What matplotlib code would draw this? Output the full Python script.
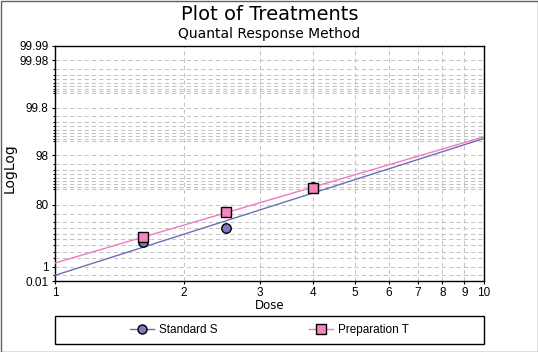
import numpy as np
import matplotlib
matplotlib.use("Agg")
import matplotlib.pyplot as plt
from matplotlib.lines import Line2D
from matplotlib.patches import Rectangle

# data (response in percent)
dose = [1.6, 2.5, 4.0]
std_resp = [25.5, 50.0, 91.0]
prep_resp = [34.0, 72.5, 90.5]

# fitted lines: percent at dose 1 and dose 10
fit_dose = [1.0, 10.0]
std_fit = [0.092, 99.107]
prep_fit = [2.15, 99.175]

y_major = [0.01, 1, 80, 98, 99.8, 99.98, 99.99]
y_major_lbl = ["0.01", "1", "80", "98", "99.8", "99.98", "99.99"]
y_minor = [0.1, 5, 10, 20, 30, 40, 50, 60, 70,
           90, 91, 92, 93, 94, 95, 96, 97,
           99.0, 99.1, 99.2, 99.3, 99.4, 99.5, 99.6, 99.7,
           99.90, 99.91, 99.92, 99.93, 99.94, 99.95, 99.96, 99.97]
x_ticks = [1, 2, 3, 4, 5, 6, 7, 8, 9, 10]

BLUE_L = "#6e6eb4"; BLUE_F = "#7b7bc0"
PINK_L = "#f07ac0"; PINK_F = "#f584c0"
GRID = "#c4c4c4"

def fwd(p):
    p = np.asarray(p, dtype=float) / 100.0
    with np.errstate(divide="ignore", invalid="ignore"):
        return -np.log(-np.log(p))

def inv(g):
    g = np.asarray(g, dtype=float)
    return 100.0 * np.exp(-np.exp(-g))

plt.rcParams["font.family"] = ["Liberation Sans", "DejaVu Sans"]

fig = plt.figure(figsize=(5.38, 3.52), dpi=100)
ax = fig.add_axes([55/538, 1-281/352, 429/538, 235/352])

ax.set_xscale("log")
ax.set_yscale("function", functions=(fwd, inv))
ax.set_xlim(1, 10)
ax.set_ylim(0.01, 99.99)

ax.plot(fit_dose, std_fit, color=BLUE_L, lw=1.0, zorder=3)
ax.plot(fit_dose, prep_fit, color=PINK_L, lw=1.0, zorder=3)
ax.plot(dose, std_resp, ls="none", marker="o", ms=6.8, mfc=BLUE_F, mec="black", mew=1.0, zorder=4)
ax.plot(dose, prep_resp, ls="none", marker="s", ms=6.8, mfc=PINK_F, mec="black", mew=1.0, zorder=5)

ax.set_yticks(y_major)
ax.set_yticklabels(y_major_lbl)
ax.set_yticks(y_minor, minor=True)
ax.set_xticks(x_ticks)
ax.set_xticklabels([str(v) for v in x_ticks])
ax.xaxis.set_minor_locator(matplotlib.ticker.NullLocator())

ax.grid(True, which="both", axis="y", color=GRID, lw=0.75, ls=(0, (4, 3)), zorder=1)
ax.grid(True, which="major", axis="x", color=GRID, lw=0.75, ls=(0, (4, 3)), zorder=1)
ax.tick_params(axis="both", which="major", labelsize=8.5, length=2.2, width=0.8, pad=2.5, colors="black")
ax.tick_params(axis="x", which="major", pad=1.8)
ax.tick_params(axis="y", which="minor", length=1.5, width=0.8)
for s in ax.spines.values():
    s.set_color("black"); s.set_linewidth(1.0)

fig.text(269.5/538, 1-15/352, "Plot of Treatments", family="DejaVu Sans", fontsize=14,
         ha="center", va="center")
fig.text(269.5/538, 1-34/352, "Quantal Response Method", family="DejaVu Sans", fontsize=10,
         ha="center", va="center")
fig.text(269.5/538, 1-305.5/352, "Dose", family="DejaVu Sans", fontsize=8.5, ha="center", va="center")
fig.text(10/538, 1-168/352, "LogLog", family="DejaVu Sans", fontsize=10, rotation=90,
         ha="center", va="center")

handles = [Line2D([], [], color=BLUE_L, lw=1.0, marker="o", ms=6.5, mfc=BLUE_F, mec="black", mew=1.0),
           Line2D([], [], color=PINK_L, lw=1.0, marker="s", ms=6.5, mfc=PINK_F, mec="black", mew=1.0)]
fig.legend(handles, ["Standard S", "Preparation T"], loc="center", ncol=2,
           bbox_to_anchor=(269.5/538, 1-330/352), frameon=False, fontsize=8.5,
           columnspacing=7.8, handlelength=2.0, handletextpad=0.4, numpoints=1)
fig.patches.append(Rectangle((55/538, 1-344/352), 429/538, 28/352, transform=fig.transFigure,
                             fill=False, edgecolor="black", lw=1.0))
fig.patches.append(Rectangle((0.5/538, 0.5/352), 537/538, 351/352, transform=fig.transFigure,
                             fill=False, edgecolor="#606060", lw=1.0))

fig.savefig("out.png", dpi=100, facecolor="white")
